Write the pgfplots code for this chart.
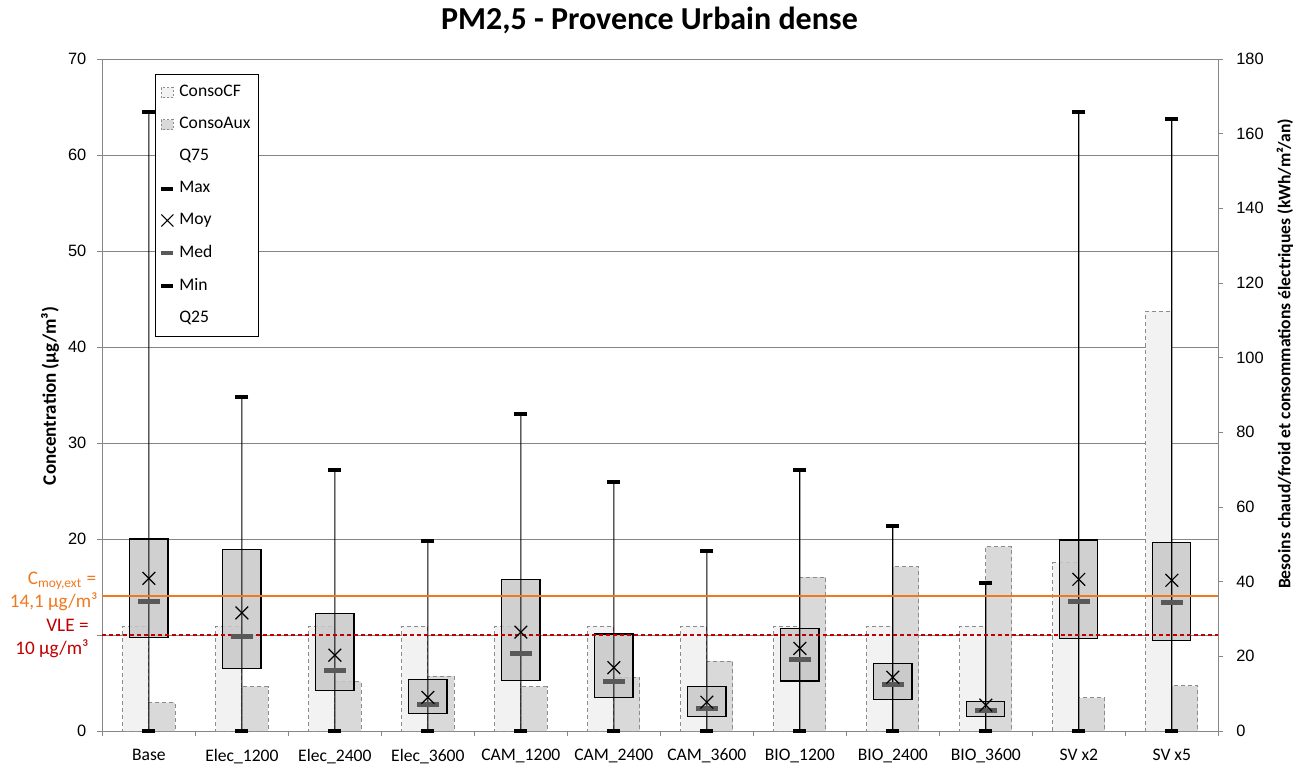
\documentclass[border=0pt]{standalone}
\usepackage{pgfplots}
\pgfplotsset{compat=1.18}
\usepackage{pgfplotstable}
\usepackage{fontspec}
\setmainfont{Carlito}
\newfontfamily\arialfont{Liberation Sans}

\definecolor{gridgray}{RGB}{134,134,134}
\definecolor{cfcol}{RGB}{242,242,242}
\definecolor{auxcol}{RGB}{217,217,217}
\definecolor{bordgray}{RGB}{140,140,140}
\definecolor{boxcol}{RGB}{200,200,200}
\definecolor{medcol}{RGB}{89,89,89}
\definecolor{cmoy}{RGB}{240,120,30}
\definecolor{vle}{RGB}{192,0,0}

% concentrations PM2,5 (ug/m3), one row per scenario
\pgfplotstableread{
x q25 q75 mean med max min
0 9.7 20.0 15.9 13.5 64.5 0
1 6.5 18.9 12.3 9.8 34.8 0
2 4.2 12.2 7.9 6.3 27.2 0
3 1.8 5.4 3.5 2.8 19.8 0
4 5.3 15.8 10.3 8.1 33.0 0
5 3.5 10.1 6.6 5.2 25.9 0
6 1.5 4.6 3.0 2.3 18.8 0
7 5.2 10.7 8.6 7.5 27.2 0
8 3.3 7.0 5.6 4.8 21.35 0
9 1.5 3.05 2.7 2.1 15.45 0
10 9.6 19.9 15.8 13.5 64.5 0
11 9.45 19.65 15.7 13.4 63.75 0
}\boxdata

% besoins / consommations (kWh/m2/an)
\pgfplotstableread{
x cf aux
0 28 7.6
1 28 11.9
2 28 13.2
3 28 14.7
4 28 11.9
5 28 14.4
6 28 18.7
7 28 41.2
8 28 44.0
9 28 49.4
10 45.1 8.9
11 112.5 12.1
}\consodata

\pgfplotsset{
  base/.style={scale only axis, width=557.95pt, height=336pt,
    at={(51.2pt,18pt)}, anchor=south west, xmin=-0.5, xmax=11.5},
  ticknum/.style={font=\arialfont\fontsize{8.2}{10}\selectfont},
}

\begin{document}
\begin{tikzpicture}
\path[use as bounding box] (0,0) rectangle (653pt,383.5pt);

% left axis with grid and categories (label 10 hidden by the VLE note)
\begin{axis}[base,
  ymin=0, ymax=70, ytick={0,10,...,70},
  yticklabels={0,,20,30,40,50,60,70},
  ymajorgrids, grid style={gridgray, line width=0.5pt},
  axis line style={gridgray, line width=0.5pt},
  ytick pos=left, xtick pos=bottom,
  tick style={gridgray, line width=0.5pt}, tick align=outside, major tick length=2.5pt,
  yticklabel style={ticknum, xshift=-2pt},
  xtick={-0.5,0.5,...,11.5}, x tick label as interval,
  xticklabels={Base,Elec\_1200,Elec\_2400,Elec\_3600,CAM\_1200,CAM\_2400,CAM\_3600,BIO\_1200,BIO\_2400,BIO\_3600,SV x2,SV x5},
  xticklabel style={font=\fontsize{8.8}{10}\selectfont, yshift=-3pt},
]
\end{axis}

% right axis: bars
\begin{axis}[base,
  ymin=0, ymax=180, ytick={0,20,...,180},
  axis y line*=right, axis x line=none,
  axis line style={gridgray, line width=0.5pt},
  tick style={gridgray, line width=0.5pt}, tick align=outside, major tick length=2.5pt,
  /pgf/number format/assume math mode=true,
  yticklabel style={ticknum, xshift=3pt},
  ybar, bar width=0.28,
]
\addplot[fill=cfcol, draw=bordgray, dash pattern=on 2pt off 1.5pt, bar shift=-0.14] table[x=x, y=cf] {\consodata};
\addplot[fill=auxcol, draw=bordgray, dash pattern=on 2pt off 1.5pt, bar shift=0.14] table[x=x, y=aux] {\consodata};
\end{axis}

% boxes Q25-Q75 as stacked bars
\begin{axis}[base, ymin=0, ymax=70, hide axis, ybar stacked, bar width=0.41]
\addplot[draw=none, fill=none] table[x=x, y=q25] {\boxdata};
\addplot[draw=black, line width=0.6pt, fill=boxcol, fill opacity=0.85] table[x=x, y expr=\thisrow{q75}-\thisrow{q25}] {\boxdata};
\end{axis}

% whiskers min-max as thin stacked bars
\begin{axis}[base, ymin=0, ymax=70, hide axis, ybar stacked, bar width=0.6pt]
\addplot[draw=none, fill=none] table[x=x, y=min] {\boxdata};
\addplot[draw=none, fill=black] table[x=x, y expr=\thisrow{max}-\thisrow{min}] {\boxdata};
\end{axis}

% markers, reference lines, legend
\begin{axis}[base, ymin=0, ymax=70, hide axis, clip=false,
  legend style={at={(axis description cs:0.0471,0.9777)}, anchor=north west,
    draw=black, fill=white, font=\fontsize{8.8}{10}\selectfont,
    row sep=4.8pt, inner xsep=2pt, inner ysep=3.5pt, cells={anchor=west}},
]
\addplot[forget plot, draw=cmoy, line width=0.9pt, mark=none] coordinates {(-0.5,14.1) (11.5,14.1)};
\addplot[forget plot, draw=vle, line width=0.8pt, mark=none, dash pattern=on 2pt off 1.5pt] coordinates {(-0.5,10) (11.5,10)};
\addplot[forget plot, only marks, mark=-, mark size=3.3pt, mark options={line width=2pt, black}] table[x=x, y=max] {\boxdata};
\addplot[forget plot, only marks, mark=-, mark size=3.3pt, mark options={line width=2pt, black}] table[x=x, y=min] {\boxdata};
\addplot[forget plot, only marks, mark=-, mark size=5.5pt, mark options={line width=2.5pt, medcol}] table[x=x, y=med] {\boxdata};
\addplot[forget plot, only marks, mark=x, mark size=4.5pt, mark options={line width=0.6pt, black}] table[x=x, y=mean] {\boxdata};

\addlegendimage{legend image code/.code={\draw[fill=cfcol, draw=bordgray, dash pattern=on 1pt off 1pt] (0pt,-2.5pt) rectangle (6pt,2.5pt);}}
\addlegendentry{ConsoCF}
\addlegendimage{legend image code/.code={\draw[fill=auxcol, draw=bordgray, dash pattern=on 1pt off 1pt] (0pt,-2.5pt) rectangle (6pt,2.5pt);}}
\addlegendentry{ConsoAux}
\addlegendimage{legend image code/.code={\path[draw=none, fill=none] (0pt,-2.5pt) rectangle (6pt,2.5pt);}}
\addlegendentry{Q75}
\addlegendimage{legend image code/.code={\draw[black, line width=2pt] (0pt,0pt) -- (6pt,0pt);}}
\addlegendentry{Max}
\addlegendimage{legend image code/.code={\draw[black, line width=0.6pt] (0pt,-3pt) -- (6pt,3pt) (0pt,3pt) -- (6pt,-3pt);}}
\addlegendentry{Moy}
\addlegendimage{legend image code/.code={\draw[medcol, line width=2pt] (0pt,0pt) -- (6pt,0pt);}}
\addlegendentry{Med}
\addlegendimage{legend image code/.code={\draw[black, line width=2pt] (0pt,0pt) -- (6pt,0pt);}}
\addlegendentry{Min}
\addlegendimage{legend image code/.code={\path[draw=none, fill=none] (0pt,-2.5pt) rectangle (6pt,2.5pt);}}
\addlegendentry{Q25}
\end{axis}

% title, axis titles, annotations
\node[font=\bfseries\fontsize{16}{19}\selectfont] at (324.75pt,373.5pt) {PM2,5 - Provence Urbain dense};
\node[font=\bfseries\fontsize{9.5}{11}\selectfont, rotate=90] at (25pt,185.5pt) {Concentration (µg/m³)};
\node[font=\bfseries\fontsize{8.8}{11}\selectfont, rotate=90] at (642.5pt,206.5pt) {Besoins chaud/froid et consommations électriques (kWh/m²/an)};
\node[anchor=base east, text=cmoy, font=\fontsize{9.6}{11}\selectfont, inner sep=0pt] at (48.3pt,91.3pt) {C\textsubscript{moy,ext} =};
\node[anchor=base east, text=cmoy, font=\fontsize{9.6}{11}\selectfont, inner sep=0pt] at (49pt,80pt) {14,1 µg/m³};
\node[anchor=base east, text=vle, font=\fontsize{9.6}{11}\selectfont, inner sep=0pt] at (44.5pt,67.6pt) {VLE =};
\node[anchor=base east, text=vle, font=\fontsize{9.6}{11}\selectfont, inner sep=0pt] at (44.5pt,56.2pt) {10 µg/m³};
\end{tikzpicture}
\end{document}
